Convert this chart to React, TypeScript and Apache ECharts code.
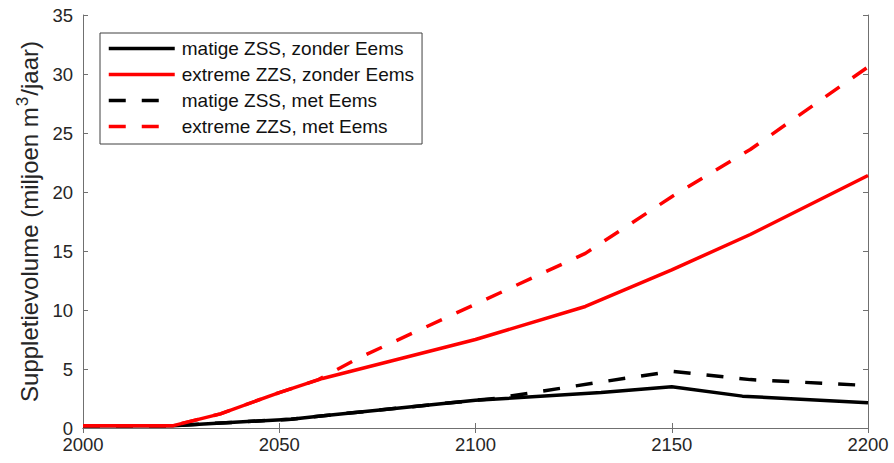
import React, { useEffect, useRef } from "react";
import * as echarts from "echarts";

// Legend / series names
const seriesNames = [
  "matige ZSS, zonder Eems",
  "extreme ZZS, zonder Eems",
  "matige ZSS, met Eems",
  "extreme ZZS, met Eems",
];

// x ticks
const xMin = 2000;
const xMax = 2200;
const xStep = 50;
// y ticks
const yMin = 0;
const yMax = 35;
const yStep = 5;

// matige ZSS, zonder Eems (black, solid)
const matigeZonderYears = [2000, 2023, 2053, 2060, 2100, 2132, 2150, 2168, 2200];
const matigeZonderValues = [0.2, 0.2, 0.75, 1.0, 2.35, 3.0, 3.5, 2.7, 2.15];

// extreme ZZS, zonder Eems (red, solid)
const extremeZonderYears = [2000, 2023, 2035, 2050, 2061, 2100, 2128, 2150, 2170, 2200];
const extremeZonderValues = [0.2, 0.2, 1.2, 3.0, 4.2, 7.5, 10.3, 13.4, 16.4, 21.4];

// matige ZSS, met Eems (black, dashed)
const matigeMetYears = [2000, 2023, 2053, 2060, 2100, 2105, 2130, 2150, 2170, 2200];
const matigeMetValues = [0.2, 0.2, 0.75, 1.0, 2.35, 2.5, 3.8, 4.8, 4.1, 3.6];

// extreme ZZS, met Eems (red, dashed)
const extremeMetYears = [2000, 2023, 2035, 2050, 2060, 2070, 2100, 2128, 2150, 2170, 2200];
const extremeMetValues = [0.2, 0.2, 1.2, 3.0, 4.1, 5.9, 10.5, 14.8, 19.6, 23.6, 30.6];

const pairs = (xs: number[], ys: number[]) => xs.map((x, i) => [x, ys[i]]);

const FONT = "Arial, 'Liberation Sans', Helvetica, sans-serif";
const AXIS_COLOR = "#707070";
const LABEL_COLOR = "#262626";
const DASH = [17, 16];

export default function App() {
  const ref = useRef<HTMLDivElement>(null);

  useEffect(() => {
    if (!ref.current) return;
    const chart = echarts.init(ref.current, undefined, { renderer: "svg" });

    const lineSeries = (
      name: string,
      data: number[][],
      color: string,
      dashed: boolean
    ) => ({
      name,
      type: "line",
      data,
      symbol: "none",
      showSymbol: false,
      xAxisIndex: 0,
      yAxisIndex: 0,
      lineStyle: {
        color,
        width: 3.5,
        type: dashed ? DASH : "solid",
        cap: "butt",
      },
      itemStyle: { color },
      emphasis: { disabled: true },
    });

    const axisCommon = {
      axisLine: { show: true, lineStyle: { color: AXIS_COLOR, width: 1 } },
      axisTick: { show: true, inside: true, length: 5, lineStyle: { color: AXIS_COLOR } },
      splitLine: { show: false },
    };

    chart.setOption({
      animation: false,
      backgroundColor: "#ffffff",
      grid: { left: 83, right: 26, top: 15, bottom: 35, containLabel: false },
      legend: {
        show: true,
        data: seriesNames.map((name, i) => ({
          name,
          lineStyle: { width: 3.5, type: i < 2 ? "solid" : DASH },
        })),
        orient: "vertical",
        left: 100,
        top: 33,
        padding: [6, 8, 8, 7],
        itemGap: 7,
        itemWidth: 66,
        itemHeight: 14,
        backgroundColor: "#ffffff",
        borderColor: "#404040",
        borderWidth: 1,
        borderRadius: 0,
        selectedMode: false,
        itemStyle: { opacity: 0 },
        lineStyle: { width: 3.5 },
        textStyle: {
          fontFamily: FONT,
          fontSize: 19,
          lineHeight: 19,
          color: "#111111",
          padding: [0, 0, 0, 2],
        },
      },
      xAxis: [
        {
          type: "value",
          min: xMin,
          max: xMax,
          interval: xStep,
          position: "bottom",
          ...axisCommon,
          axisLabel: {
            show: true,
            margin: 7,
            fontFamily: FONT,
            fontSize: 18.5,
            color: LABEL_COLOR,
            formatter: (v: number) => String(v),
          },
        },
        {
          type: "value",
          min: xMin,
          max: xMax,
          interval: xStep,
          position: "top",
          ...axisCommon,
          axisLabel: { show: false },
        },
      ],
      yAxis: [
        {
          type: "value",
          min: yMin,
          max: yMax,
          interval: yStep,
          position: "left",
          ...axisCommon,
          axisLabel: {
            show: true,
            margin: 10,
            fontFamily: FONT,
            fontSize: 18.5,
            color: LABEL_COLOR,
          },
          name: "{a|Suppletievolume (miljoen m}{s|3}{a|/jaar)}",
          nameLocation: "middle",
          nameGap: 41,
          nameRotate: 90,
          nameTextStyle: {
            fontFamily: FONT,
            fontSize: 24,
            color: LABEL_COLOR,
            rich: {
              a: {
                fontFamily: FONT,
                fontSize: 24,
                lineHeight: 28,
                color: LABEL_COLOR,
                verticalAlign: "bottom",
              },
              s: {
                fontFamily: FONT,
                fontSize: 17,
                lineHeight: 17,
                color: LABEL_COLOR,
                verticalAlign: "top",
                padding: [0, 1, 0, 1],
              },
            },
          },
        },
        {
          type: "value",
          min: yMin,
          max: yMax,
          interval: yStep,
          position: "right",
          ...axisCommon,
          axisLabel: { show: false },
        },
      ],
      series: [
        lineSeries(seriesNames[0], pairs(matigeZonderYears, matigeZonderValues), "#000000", false),
        lineSeries(seriesNames[1], pairs(extremeZonderYears, extremeZonderValues), "#ff0000", false),
        lineSeries(seriesNames[2], pairs(matigeMetYears, matigeMetValues), "#000000", true),
        lineSeries(seriesNames[3], pairs(extremeMetYears, extremeMetValues), "#ff0000", true),
      ],
    });

    return () => {
      chart.dispose();
    };
  }, []);

  return (
    <div
      ref={ref}
      style={{ position: "fixed", left: 0, top: 0, width: 894, height: 463, background: "#fff" }}
    />
  );
}
